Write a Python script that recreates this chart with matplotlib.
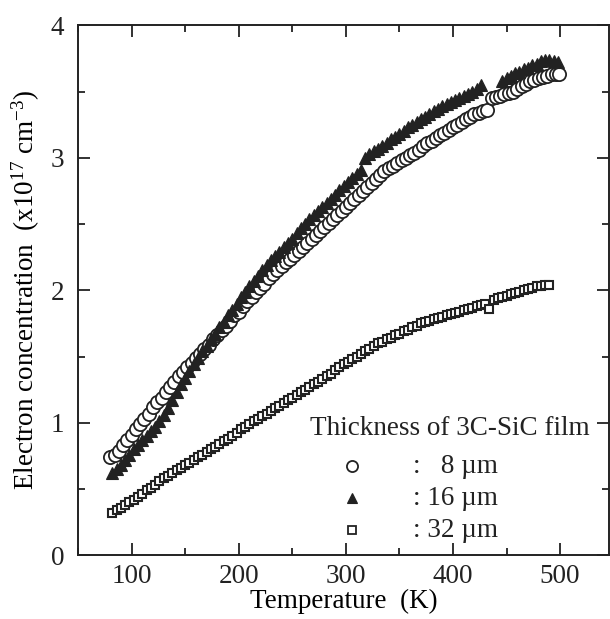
import matplotlib
matplotlib.use("Agg")
import matplotlib.pyplot as plt
from matplotlib.ticker import MultipleLocator

plt.rcParams['font.family'] = ['Liberation Serif', 'DejaVu Serif']
plt.rcParams['mathtext.fontset'] = 'custom'
plt.rcParams['mathtext.rm'] = 'Liberation Serif'
plt.rcParams['mathtext.it'] = 'Liberation Serif:italic'

# 8 um film (open circles)
t_8um = [80, 84, 88, 92, 96, 100, 104, 108, 112, 116, 120, 124, 128, 132, 136, 140,
         144, 148, 152, 156, 160, 164, 168, 172, 176, 180, 184, 188, 192, 196, 200,
         204, 208, 212, 216, 220, 224, 228, 232, 236, 240, 244, 248, 252, 256, 260,
         264, 268, 272, 276, 280, 284, 288, 292, 296, 300, 304, 308, 312, 316, 320,
         324, 328, 332, 336, 340, 344, 348, 352, 356, 360, 364, 368, 372, 376, 380,
         384, 388, 392, 396, 400, 404, 408, 412, 416, 420, 424, 428, 432, 436, 440,
         444, 448, 452, 456, 460, 464, 468, 472, 476, 480, 484, 488, 492, 496, 499]
n_8um = [0.74, 0.76, 0.79, 0.83, 0.87, 0.91, 0.95, 0.99, 1.03, 1.07, 1.12, 1.16, 1.19,
         1.23, 1.27, 1.31, 1.35, 1.38, 1.42, 1.45, 1.49, 1.52, 1.56, 1.59, 1.63, 1.66,
         1.70, 1.73, 1.77, 1.81, 1.84, 1.88, 1.92, 1.95, 1.99, 2.02, 2.05, 2.09, 2.12,
         2.15, 2.18, 2.21, 2.24, 2.27, 2.30, 2.33, 2.36, 2.39, 2.42, 2.45, 2.48, 2.51,
         2.54, 2.57, 2.60, 2.63, 2.66, 2.69, 2.72, 2.75, 2.78, 2.81, 2.84, 2.87, 2.90,
         2.92, 2.94, 2.96, 2.98, 3.00, 3.02, 3.04, 3.06, 3.09, 3.11, 3.13, 3.15, 3.17,
         3.19, 3.21, 3.23, 3.25, 3.27, 3.29, 3.31, 3.33, 3.34, 3.35, 3.36, 3.45, 3.46,
         3.47, 3.48, 3.49, 3.50, 3.52, 3.54, 3.56, 3.58, 3.59, 3.60, 3.61, 3.62, 3.63,
         3.63, 3.63]

# 16 um film (filled triangles)
t_16um = [82, 86, 90, 94, 98, 102, 106, 110, 114, 118, 122, 126, 130, 134, 138, 142,
          146, 150, 154, 158, 162, 166, 170, 174, 178, 182, 186, 190, 194, 198, 202,
          206, 210, 214, 218, 222, 226, 230, 234, 238, 242, 246, 250, 254, 258, 262,
          266, 270, 274, 278, 282, 286, 290, 294, 298, 302, 306, 310, 314, 318, 322,
          326, 330, 334, 338, 342, 346, 350, 354, 358, 362, 366, 370, 374, 378, 382,
          386, 390, 394, 398, 402, 406, 410, 414, 418, 422, 426, 446, 450, 454, 458,
          462, 466, 470, 474, 478, 482, 486, 490, 494, 498]
n_16um = [0.62, 0.65, 0.68, 0.72, 0.76, 0.80, 0.83, 0.87, 0.90, 0.94, 0.97, 1.01, 1.06,
          1.11, 1.17, 1.23, 1.29, 1.34, 1.39, 1.44, 1.49, 1.54, 1.58, 1.63, 1.67, 1.72,
          1.76, 1.81, 1.85, 1.90, 1.95, 1.99, 2.03, 2.07, 2.11, 2.15, 2.19, 2.23, 2.26,
          2.29, 2.33, 2.36, 2.39, 2.43, 2.47, 2.50, 2.54, 2.57, 2.60, 2.63, 2.66, 2.69,
          2.72, 2.76, 2.79, 2.82, 2.85, 2.88, 2.91, 3.00, 3.03, 3.05, 3.07, 3.09, 3.11,
          3.14, 3.16, 3.18, 3.20, 3.23, 3.25, 3.27, 3.29, 3.31, 3.33, 3.35, 3.37, 3.39,
          3.41, 3.42, 3.44, 3.45, 3.47, 3.48, 3.50, 3.52, 3.55, 3.58, 3.60, 3.62, 3.64,
          3.65, 3.67, 3.68, 3.70, 3.71, 3.73, 3.74, 3.74, 3.73, 3.72]

# 32 um film (open squares)
t_32um = [82, 86, 90, 94, 98, 102, 106, 110, 114, 118, 122, 126, 130, 134, 138, 142,
          146, 150, 154, 158, 162, 166, 170, 174, 178, 182, 186, 190, 194, 198, 202,
          206, 210, 214, 218, 222, 226, 230, 234, 238, 242, 246, 250, 254, 258, 262,
          266, 270, 274, 278, 282, 286, 290, 294, 298, 302, 306, 310, 314, 318, 322,
          326, 330, 334, 338, 342, 346, 350, 354, 358, 362, 366, 370, 374, 378, 382,
          386, 390, 394, 398, 402, 406, 410, 414, 418, 422, 426, 430, 434, 438, 442,
          446, 450, 454, 458, 462, 466, 470, 474, 478, 482, 486, 490]
n_32um = [0.32, 0.34, 0.36, 0.38, 0.40, 0.42, 0.44, 0.46, 0.49, 0.51, 0.53, 0.56, 0.58,
          0.60, 0.62, 0.64, 0.66, 0.68, 0.70, 0.72, 0.74, 0.76, 0.78, 0.80, 0.82, 0.84,
          0.86, 0.88, 0.90, 0.92, 0.95, 0.97, 0.99, 1.01, 1.03, 1.05, 1.07, 1.09, 1.11,
          1.13, 1.15, 1.17, 1.19, 1.21, 1.23, 1.25, 1.27, 1.29, 1.31, 1.33, 1.35, 1.37,
          1.40, 1.42, 1.44, 1.46, 1.48, 1.50, 1.52, 1.54, 1.56, 1.58, 1.60, 1.61, 1.63,
          1.64, 1.66, 1.67, 1.69, 1.70, 1.72, 1.73, 1.75, 1.76, 1.77, 1.78, 1.79, 1.80,
          1.81, 1.82, 1.83, 1.84, 1.85, 1.86, 1.87, 1.88, 1.89, 1.90, 1.86, 1.93, 1.94,
          1.95, 1.96, 1.97, 1.98, 1.99, 2.00, 2.01, 2.02, 2.03, 2.03, 2.04, 2.04]

legend_title = "Thickness of 3C-SiC film"
legend_labels = [":   8 \u00b5m", ": 16 \u00b5m", ": 32 \u00b5m"]

fig = plt.figure(figsize=(6.10, 6.19), dpi=100)
ax = fig.add_axes([0.128, 0.103, 0.871, 0.856])

ax.plot(t_8um, n_8um, 'o', ms=9.5, mfc='white', mec='#222222', mew=1.3, zorder=3)
ax.plot(t_16um, n_16um, '^', ms=8.5, mfc='#222222', mec='#222222', mew=0.8, zorder=4)
ax.plot(t_32um, n_32um, 's', ms=6.3, mfc='white', mec='#222222', mew=1.5, zorder=3)

ax.set_xlim(50, 546)
ax.set_ylim(0, 4)
ax.xaxis.set_major_locator(MultipleLocator(100))
ax.xaxis.set_minor_locator(MultipleLocator(50))
ax.yaxis.set_major_locator(MultipleLocator(1))
ax.yaxis.set_minor_locator(MultipleLocator(0.5))
ax.tick_params(which='both', direction='in', top=True, right=True,
               width=1.3, colors='#222222', labelsize=19.5)
ax.tick_params(which='major', length=8.5)
ax.tick_params(which='minor', length=5)
ax.tick_params(axis='x', which='major', pad=6)
ax.tick_params(axis='y', which='major', pad=10)
for s in ax.spines.values():
    s.set_linewidth(1.4)
    s.set_color('#222222')

ax.set_xlabel("Temperature  (K)", fontsize=19.5, labelpad=0)
ax.set_ylabel("Electron concentration  (x10$^{17}$ cm$^{-3}$)", fontsize=19.5, labelpad=6)

# hand-made legend
ax.text(0.437, 0.24, legend_title, transform=ax.transAxes, fontsize=19.5,
        va='center', ha='left', color='#222222')
leg_styles = [dict(marker='o', ms=8, mfc='white', mec='#222222', mew=1.3),
              dict(marker='^', ms=7.5, mfc='#222222', mec='#222222', mew=0.8),
              dict(marker='s', ms=5.5, mfc='white', mec='#222222', mew=1.3)]
leg_y = [0.168, 0.108, 0.047]
for lab, st, yy in zip(legend_labels, leg_styles, leg_y):
    ax.plot([0.516], [yy], transform=ax.transAxes, ls='none', clip_on=False, **st)
    ax.text(0.631, yy, lab, transform=ax.transAxes, fontsize=19.5,
            va='center', ha='left', color='#222222')

fig.savefig("out.png", dpi=100)
